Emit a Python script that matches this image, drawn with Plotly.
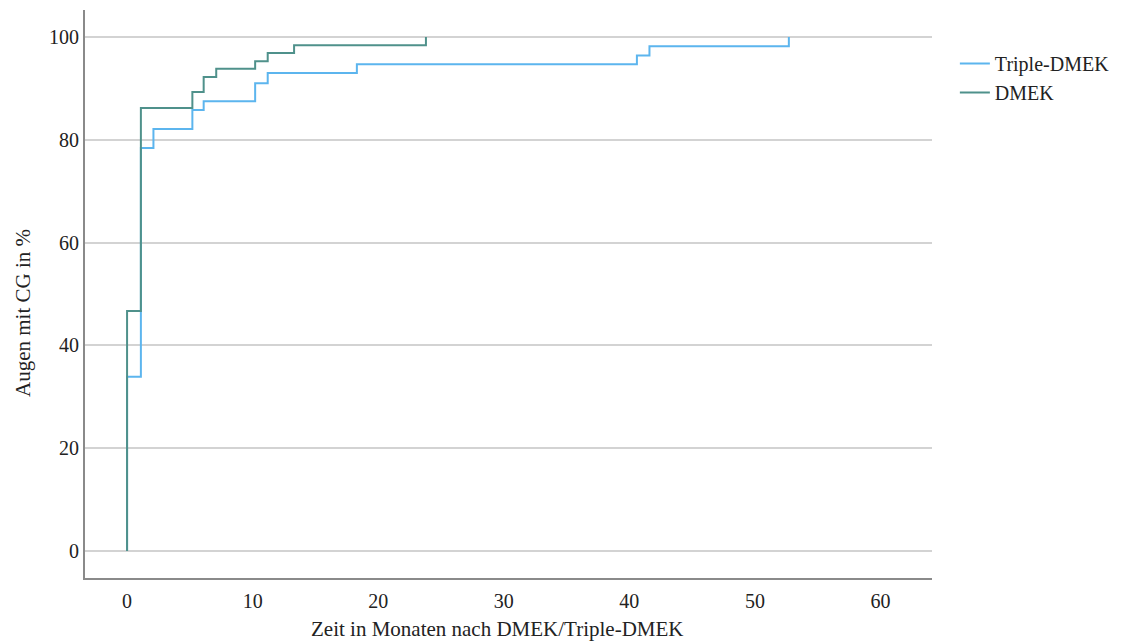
import plotly.graph_objects as go

# Data (months, % of eyes with CG)
triple_x = [0, 0, 1.1, 2.1, 5.2, 6.1, 10.2, 11.2, 18.3, 40.6, 41.6, 52.7]
triple_y = [0, 33.9, 78.4, 82.1, 85.8, 87.5, 91.0, 93.0, 94.7, 96.4, 98.2, 100]
dmek_x = [0, 0, 1.1, 5.2, 6.1, 7.1, 10.2, 11.2, 13.3, 23.8]
dmek_y = [0, 46.7, 86.2, 89.3, 92.2, 93.8, 95.3, 96.9, 98.4, 100]

x_ticks = [0, 10, 20, 30, 40, 50, 60]
y_ticks = [0, 20, 40, 60, 80, 100]

FONT = "Liberation Serif"

fig = go.Figure()
fig.add_trace(go.Scatter(x=triple_x, y=triple_y, mode="lines", line_shape="hv",
                         name="Triple-DMEK", line=dict(color="#5cb5ee", width=2)))
fig.add_trace(go.Scatter(x=dmek_x, y=dmek_y, mode="lines", line_shape="hv",
                         name="DMEK", line=dict(color="#4f918b", width=2)))

fig.update_layout(
    width=1121, height=641,
    margin=dict(l=85, r=189, t=10, b=63, autoexpand=False),
    paper_bgcolor="white", plot_bgcolor="white",
    font=dict(family=FONT, size=19, color="#222"),
    showlegend=True,
    legend=dict(x=1.027, y=0.94, xanchor="left", yanchor="top",
                font=dict(family=FONT, size=20, color="#222"),
                bgcolor="rgba(0,0,0,0)", tracegroupgap=0, itemwidth=30),
    xaxis=dict(range=[-3.35, 64.1], tickvals=x_ticks, showgrid=False, zeroline=False,
               showline=True, linecolor="#8a8a8a", linewidth=2,
               ticks="outside", ticklen=4, tickcolor="rgba(0,0,0,0)",
               tickfont=dict(family=FONT, size=20, color="#222")),
    yaxis=dict(range=[-5.25, 105.25], tickvals=y_ticks, showgrid=True,
               gridcolor="#d3d3d3", gridwidth=1.5, zeroline=False,
               showline=True, linecolor="#8a8a8a", linewidth=2,
               ticks="",
               tickfont=dict(family=FONT, size=20, color="#222")),
)

fig.add_annotation(text="Zeit in Monaten nach DMEK/Triple-DMEK", xref="paper", yref="paper",
                   x=(497 - 85) / (932 - 85), y=(578 - 629) / (578 - 10),
                   xanchor="center", yanchor="middle",
                   showarrow=False, font=dict(family=FONT, size=21, color="#222"))
fig.add_annotation(text="Augen mit CG in %", xref="paper", yref="paper",
                   x=(23 - 85) / (932 - 85), y=(578 - 313) / (578 - 10), xanchor="center",
                   yanchor="middle", textangle=-90, showarrow=False,
                   font=dict(family=FONT, size=21, color="#222"))

fig.write_html("out.html")
